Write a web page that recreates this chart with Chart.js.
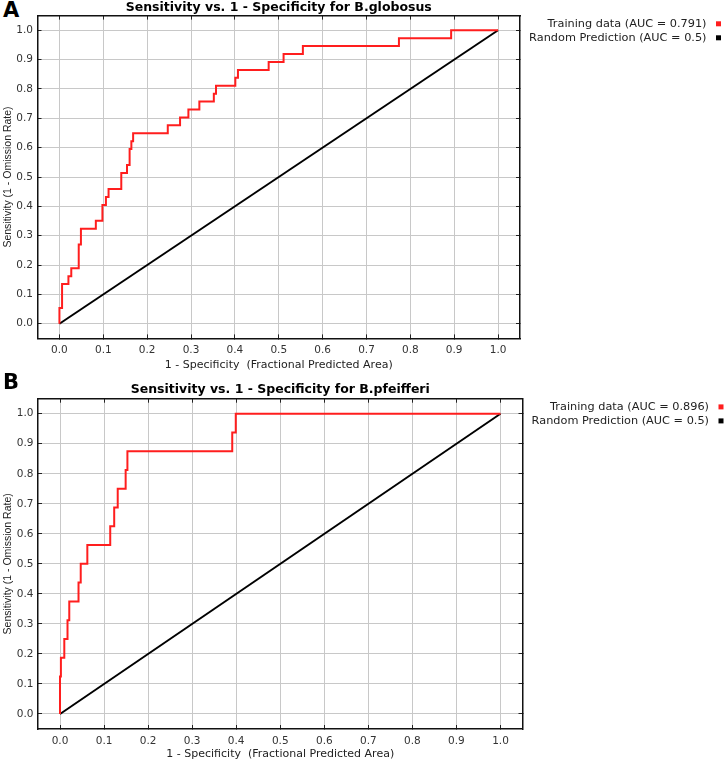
<!DOCTYPE html>
<html>
<head>
<meta charset="utf-8">
<script src="https://cdn.jsdelivr.net/npm/chart.js@4.4.1/dist/chart.umd.min.js"></script>
<style>
  body { margin: 0; background: #fff; overflow: hidden; }
  .panel { position: absolute; left: 0; width: 726px; }
  .tag { position: absolute; left: 3px; font: bold 21px "DejaVu Sans", sans-serif; color: #000; }
</style>
</head>
<body>
<div class="tag" style="top:-2px">A</div>
<div class="panel" style="top:0; height:378px"><canvas id="rocA"></canvas></div>
<div class="tag" style="top:370px">B</div>
<div class="panel" style="top:378px; height:385px"><canvas id="rocB"></canvas></div>
<script>
// tick values shared by both panels
const axisTicks = [0.0, 0.1, 0.2, 0.3, 0.4, 0.5, 0.6, 0.7, 0.8, 0.9, 1.0];

// B.globosus training ROC (1 - specificity, sensitivity), one point per step
const globosusFpr  = [0, 0, 0.006, 0.0205, 0.027, 0.044, 0.049, 0.083, 0.098, 0.106, 0.112, 0.141, 0.154, 0.160, 0.164, 0.168, 0.247, 0.275, 0.294, 0.319, 0.352, 0.357, 0.401, 0.407, 0.477, 0.511, 0.555, 0.774, 0.893, 1.0];
const globosusSens = [0, 0.054, 0.135, 0.162, 0.189, 0.270, 0.324, 0.351, 0.405, 0.432, 0.459, 0.514, 0.541, 0.595, 0.622, 0.649, 0.676, 0.703, 0.730, 0.757, 0.784, 0.811, 0.838, 0.865, 0.892, 0.919, 0.946, 0.973, 1.0, 1.0];

// B.pfeifferi training ROC
const pfeifferiFpr  = [0, 0, 0.002, 0.0097, 0.017, 0.021, 0.042, 0.047, 0.062, 0.114, 0.123, 0.131, 0.149, 0.153, 0.391, 0.399, 1.0];
const pfeifferiSens = [0, 0.125, 0.1875, 0.25, 0.3125, 0.375, 0.4375, 0.5, 0.5625, 0.625, 0.6875, 0.75, 0.8125, 0.875, 0.9375, 1.0, 1.0];

// random prediction diagonal
const randomFpr  = [0, 1];
const randomSens = [0, 1];

const titleA = "Sensitivity vs. 1 - Specificity for B.globosus";
const titleB = "Sensitivity vs. 1 - Specificity for B.pfeifferi";
const labelsA = ["Training data (AUC = 0.791)", "Random Prediction (AUC = 0.5)"];
const labelsB = ["Training data (AUC = 0.896)", "Random Prediction (AUC = 0.5)"];

function toPoints(xs, ys) {
    return xs.map((x, i) => ({ x: x, y: ys[i] }));
}

// legend text right-aligned with the colour square after it
const sideLegend = {
    id: 'sideLegend',
    afterDraw(chart) {
        const ctx = chart.ctx;
        const area = chart.chartArea;
        ctx.save();
        ctx.font = '11.3px "DejaVu Sans"';
        ctx.textAlign = 'right';
        ctx.textBaseline = 'middle';
        chart.data.datasets.forEach((ds, i) => {
            const y = area.top + 8.7 + i * 14;
            ctx.fillStyle = '#222';
            ctx.fillText(ds.label, area.right + 186.5, y);
            ctx.fillStyle = ds.borderColor;
            ctx.fillRect(area.right + 196, y - 3, 5, 5);
        });
        ctx.restore();
    }
};

function setTicks(scale) {
    scale.ticks = axisTicks.map(v => ({ value: v }));
}

function drawRoc(canvasId, title, labels, fpr, sens, sz) {
    const ctx = document.getElementById(canvasId).getContext("2d");
    const frame = { display: true, color: '#111', width: 1.5 };
    const tickFont = { family: 'DejaVu Sans', size: 10.5 };

    return new Chart(ctx, {
        type: 'line',
        data: {
            datasets: [{
                label: labels[0],
                data: toPoints(fpr, sens),
                borderColor: 'rgb(255, 30, 30)',
                borderWidth: 2,
                pointRadius: 0,
                stepped: 'before'
            }, {
                label: labels[1],
                data: toPoints(randomFpr, randomSens),
                borderColor: '#000',
                borderWidth: 2,
                pointRadius: 0
            }]
        },
        options: {
            responsive: true,
            maintainAspectRatio: false,
            animation: false,
            layout: { padding: { top: sz.top, right: sz.right, left: 0, bottom: 0 } },
            scales: {
                x: {
                    type: 'linear', position: 'bottom', min: -0.05, max: 1.05,
                    afterBuildTicks: setTicks,
                    afterFit: s => { s.height = sz.xh; },
                    grid: { color: '#c8c8c8', lineWidth: 1, tickLength: -4, tickColor: '#222' },
                    border: frame,
                    ticks: { font: tickFont, color: '#333', padding: sz.xpad, maxRotation: 0,
                             callback: v => v.toFixed(1) },
                    title: { display: true, text: '1 - Specificity  (Fractional Predicted Area)',
                             font: { family: 'DejaVu Sans', size: 11 }, color: '#222',
                             padding: { top: 0, bottom: sz.xtitle } }
                },
                y: {
                    type: 'linear', position: 'left', min: -0.05, max: 1.05,
                    afterBuildTicks: setTicks,
                    afterFit: s => { s.width = sz.yw; },
                    grid: { color: '#c8c8c8', lineWidth: 1, tickLength: -4, tickColor: '#222' },
                    border: frame,
                    ticks: { font: tickFont, color: '#333', padding: 8.5,
                             callback: v => v.toFixed(1) },
                    title: { display: true, text: 'Sensitivity (1 - Omission Rate)',
                             font: { family: 'Liberation Sans', size: 10.5 }, color: '#222',
                             padding: { top: 1.7, bottom: 0 } }
                },
                x2: {
                    type: 'linear', position: 'top', min: -0.05, max: 1.05,
                    afterBuildTicks: setTicks,
                    afterFit: s => { s.height = 0; },
                    grid: { drawOnChartArea: false, tickLength: -4, tickColor: '#222' },
                    border: frame,
                    ticks: { display: false }
                },
                y2: {
                    type: 'linear', position: 'right', min: -0.05, max: 1.05,
                    afterBuildTicks: setTicks,
                    afterFit: s => { s.width = 0; },
                    grid: { drawOnChartArea: false, tickLength: -4, tickColor: '#222' },
                    border: frame,
                    ticks: { display: false }
                }
            },
            plugins: {
                legend: { display: false },
                tooltip: { enabled: false },
                title: {
                    display: true,
                    fullSize: false,
                    text: title,
                    color: '#000',
                    font: { family: 'DejaVu Sans', size: 12.5, weight: 'bold' },
                    padding: { top: 0, bottom: sz.tpad }
                }
            }
        },
        plugins: [sideLegend]
    });
}

drawRoc("rocA", titleA, labelsA, globosusFpr, globosusSens,
    { top: 0, right: 206, xh: 39.6, yw: 37.5, xpad: 9.5, xtitle: 6.4, tpad: 0.6 });
drawRoc("rocB", titleB, labelsB, pfeifferiFpr, pfeifferiSens,
    { top: 4, right: 203.5, xh: 34, yw: 38, xpad: 10.4, xtitle: 2.1, tpad: 1.7 });
</script>
</body>
</html>
